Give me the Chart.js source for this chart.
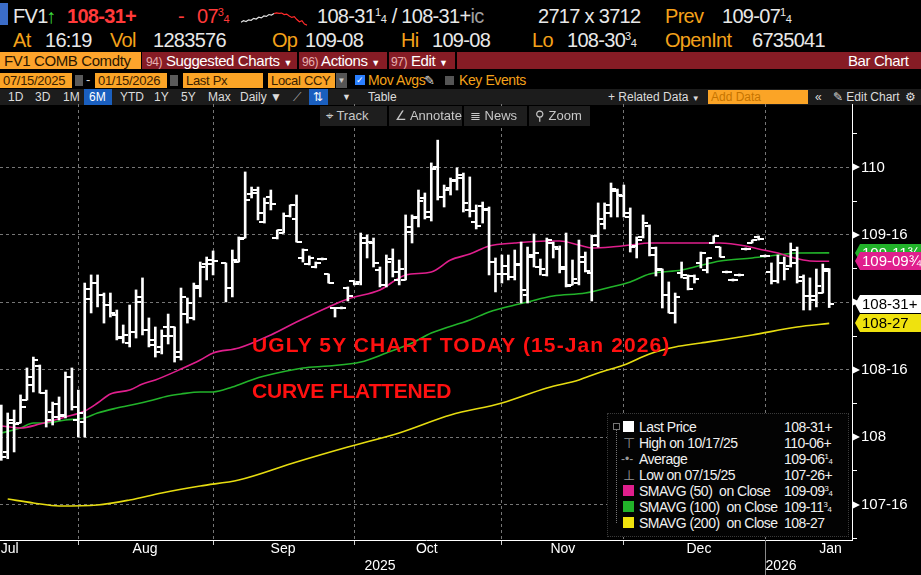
<!DOCTYPE html>
<html lang="en">
<head>
<meta charset="UTF-8">
<title>FV1 COMB Comdty - Bar Chart</title>
<script src="https://cdn.jsdelivr.net/npm/chart.js"></script>
<style>
  html, body { margin: 0; padding: 0; background: #000; }
  #screen { position: relative; width: 921px; height: 575px; overflow: hidden; background: #000;
            font-family: "Liberation Sans", Arial, sans-serif; color: #e8e8e8; }
  .abs { position: absolute; white-space: nowrap; }
  .or { color: #f4a21a; }
  .wh { color: #e8e8e8; }
  .h1 { top: 4px; font-size: 20px; line-height: 24px; letter-spacing: -0.7px; }
  .h2 { top: 28px; font-size: 20px; line-height: 24px; letter-spacing: -0.7px; }
  sup, sub { font-size: 0.55em; line-height: 0; letter-spacing: 0; }
  sup { vertical-align: 0.6em; }
  sub { vertical-align: 0; margin-left: -0.05em; }
  .bar3 { top: 52px; height: 17px; line-height: 17px; font-size: 15px; letter-spacing: -0.4px; }
  .inp { top: 73px; height: 15px; line-height: 15px; font-size: 13px; background: #fba426; color: #3a2000;
         padding-left: 3px; box-sizing: border-box; letter-spacing: -0.3px; }
  .r5 { top: 89px; height: 16px; line-height: 16px; font-size: 12px; color: #dcdcdc; }
  .tool { top: 106px; height: 20px; line-height: 20px; font-size: 13px; color: #c8c8c8; background: #1e1e1e;
          box-sizing: border-box; padding-left: 6px; }
  .note { font-size: 21px; font-weight: bold; color: #ff1010; line-height: 21px; }
  #legend { left: 607px; top: 413px; width: 242px; height: 124px; background: #030303;
            border: 1px dotted #3a3a3a; box-sizing: border-box; }
  .lg { left: 639px; font-size: 14px; line-height: 16px; color: #f0f0f0; letter-spacing: -0.5px; }
  .lv { left: 784px; font-size: 14px; line-height: 16px; color: #f0f0f0; letter-spacing: -0.5px; }
  .sq { left: 623px; width: 11px; height: 11px; }
</style>
</head>
<body>
<div id="screen">

  <!-- row 1 -->
  <div class="abs" style="left:0;top:3px;width:8px;height:22px;background:#3b6cc8"></div>
  <span class="abs h1 wh" style="left:13px">FV1</span>
  <span class="abs h1" style="left:46px;color:#3ddc3d">↑</span>
  <span class="abs h1" style="left:67px;color:#ff3a3a;font-weight:bold">108-31+</span>
  <span class="abs h1" style="left:178px;color:#ff3a3a">-</span>
  <span class="abs h1" style="left:197px;color:#ff3a3a">07<sup>3</sup><sub>4</sub></span>
  <div class="abs" style="left:240px;top:2px;width:68px;height:26px"><canvas id="spark" width="68" height="26"></canvas></div>
  <span class="abs h1 wh" style="left:317px">108-31<sup>1</sup><sub>4</sub> / 108-31+<span style="color:#a0a0a0">ic</span></span>
  <span class="abs h1 wh" style="left:538px">2717 x 3712</span>
  <span class="abs h1 or" style="left:665px">Prev</span>
  <span class="abs h1 wh" style="left:722px">109-07<sup>1</sup><sub>4</sub></span>

  <!-- row 2 -->
  <span class="abs h2 or" style="left:13px">At</span>
  <span class="abs h2 wh" style="left:45px">16:19</span>
  <span class="abs h2 or" style="left:110px">Vol</span>
  <span class="abs h2 wh" style="left:153px">1283576</span>
  <span class="abs h2 or" style="left:272px">Op</span>
  <span class="abs h2 wh" style="left:305px">109-08</span>
  <span class="abs h2 or" style="left:401px">Hi</span>
  <span class="abs h2 wh" style="left:432px">109-08</span>
  <span class="abs h2 or" style="left:532px">Lo</span>
  <span class="abs h2 wh" style="left:567px">108-30<sup>3</sup><sub>4</sub></span>
  <span class="abs h2 or" style="left:665px">OpenInt</span>
  <span class="abs h2 wh" style="left:752px">6735041</span>

  <!-- row 3 -->
  <div class="abs bar3" style="left:0;width:141px;background:#fda42c;color:#2a1600;padding-left:4px;box-sizing:border-box">FV1 COMB Comdty</div>
  <div class="abs bar3" style="left:142px;width:779px;background:#861c25"></div>
  <div class="abs" style="left:297px;top:52px;width:2px;height:17px;background:#000"></div>
  <div class="abs" style="left:387px;top:52px;width:2px;height:17px;background:#000"></div>
  <div class="abs" style="left:455px;top:52px;width:2px;height:17px;background:#000"></div>
  <span class="abs bar3" style="left:146px;color:#fff"><span style="color:#e6b0b0;font-size:12px">94)</span> Suggested Charts <span style="font-size:9px">▼</span></span>
  <span class="abs bar3" style="left:302px;color:#fff"><span style="color:#e6b0b0;font-size:12px">96)</span> Actions <span style="font-size:9px">▼</span></span>
  <span class="abs bar3" style="left:391px;color:#fff"><span style="color:#e6b0b0;font-size:12px">97)</span> Edit <span style="font-size:9px">▼</span></span>
  <span class="abs bar3" style="left:848px;color:#fff">Bar Chart</span>

  <!-- row 4 -->
  <div class="abs inp" style="left:0;width:72px">07/15/2025</div>
  <div class="abs" style="left:75px;top:75px;width:8px;height:11px;background:#5a5a5a"></div>
  <span class="abs" style="left:86px;top:72px;font-size:13px;color:#ddd">-</span>
  <div class="abs inp" style="left:95px;width:72px">01/15/2026</div>
  <div class="abs" style="left:170px;top:75px;width:8px;height:11px;background:#5a5a5a"></div>
  <div class="abs inp" style="left:183px;width:80px">Last Px</div>
  <div class="abs inp" style="left:268px;width:67px">Local CCY</div>
  <div class="abs" style="left:336px;top:73px;width:11px;height:15px;background:#555;color:#ccc;font-size:8px;line-height:15px;text-align:center">▼</div>
  <div class="abs" style="left:355px;top:75px;width:10px;height:10px;background:#2a7fff;color:#fff;font-size:9px;line-height:10px;text-align:center">✓</div>
  <span class="abs or" style="left:368px;top:72px;font-size:14px;line-height:17px;letter-spacing:-0.4px">Mov Avgs</span>
  <span class="abs" style="left:424px;top:72px;font-size:13px;line-height:17px;color:#ddd">✎</span>
  <div class="abs" style="left:445px;top:76px;width:9px;height:9px;background:#555"></div>
  <span class="abs or" style="left:459px;top:72px;font-size:14px;line-height:17px;letter-spacing:-0.4px">Key Events</span>

  <!-- row 5 -->
  <div class="abs" style="left:0;top:89px;width:921px;height:16px;background:#1c1c1c"></div>
  <div class="abs" style="left:84px;top:89px;width:28px;height:16px;background:#1a5fbf"></div>
  <div class="abs" style="left:309px;top:89px;width:19px;height:16px;background:#1a5fbf"></div>
  <div class="abs" style="left:708px;top:90px;width:100px;height:14px;background:#fba426"></div>
  <span class="abs r5" style="left:8px">1D</span>
  <span class="abs r5" style="left:35px">3D</span>
  <span class="abs r5" style="left:63px">1M</span>
  <span class="abs r5" style="left:89px;color:#fff">6M</span>
  <span class="abs r5" style="left:120px">YTD</span>
  <span class="abs r5" style="left:154px">1Y</span>
  <span class="abs r5" style="left:181px">5Y</span>
  <span class="abs r5" style="left:208px">Max</span>
  <span class="abs r5" style="left:240px">Daily ▼</span>
  <span class="abs r5" style="left:293px;color:#aaa">⟋</span>
  <span class="abs r5" style="left:313px;color:#fff">⇅</span>
  <span class="abs r5" style="left:342px;font-size:9px">▼</span>
  <span class="abs r5" style="left:368px">Table</span>
  <span class="abs r5" style="left:608px">+ Related Data <span style="font-size:8px">▼</span></span>
  <span class="abs r5" style="left:711px;color:#c67400">Add Data</span>
  <span class="abs r5" style="left:815px">«</span>
  <span class="abs r5" style="left:833px">✎ Edit Chart</span>
  <span class="abs r5" style="left:905px">⚙</span>

  <!-- chart -->
  <div class="abs" style="left:0;top:104px;width:921px;height:471px"><canvas id="barChart"></canvas></div>

  <!-- chart toolbar -->
  <div class="abs tool" style="left:320px;width:67px">⌖ Track</div>
  <div class="abs tool" style="left:389px;width:73px">∠ Annotate</div>
  <div class="abs tool" style="left:464px;width:63px">≣ News</div>
  <div class="abs tool" style="left:529px;width:61px">⚲ Zoom</div>

  <!-- notes written on the chart -->
  <div class="abs note" style="left:252px;top:334px;letter-spacing:1.1px">UGLY 5Y CHART TODAY (15-Jan 2026)</div>
  <div class="abs note" style="left:252px;top:380px;letter-spacing:-0.2px">CURVE FLATTENED</div>

  <!-- legend -->
  <div id="legend" class="abs"></div>
  <div class="abs" style="left:613px;top:423px;width:7px;height:7px;border:1px solid #777;box-sizing:border-box"></div>
  <div class="abs" style="left:616px;top:430px;width:0;height:93px;border-left:1px dotted #777"></div>
  <div class="abs sq" style="top:421px;background:#fff"></div>
  <span class="abs" style="left:623px;top:435px;font-size:14px;line-height:16px;color:#999">⊤</span>
  <span class="abs" style="left:621px;top:451px;font-size:12px;line-height:16px;color:#999">-•-</span>
  <span class="abs" style="left:623px;top:467px;font-size:14px;line-height:16px;color:#999">⊥</span>
  <div class="abs sq" style="top:485px;background:#e01f8d"></div>
  <div class="abs sq" style="top:501px;background:#22b32a"></div>
  <div class="abs sq" style="top:517px;background:#efe20e"></div>
  <span class="abs lg" style="top:419px">Last Price</span>
  <span class="abs lg" style="top:435px">High on 10/17/25</span>
  <span class="abs lg" style="top:451px">Average</span>
  <span class="abs lg" style="top:467px">Low on 07/15/25</span>
  <span class="abs lg" style="top:483px">SMAVG (50)&nbsp; on Close</span>
  <span class="abs lg" style="top:499px">SMAVG (100)&nbsp; on Close</span>
  <span class="abs lg" style="top:515px">SMAVG (200)&nbsp; on Close</span>
  <span class="abs lv" style="top:419px">108-31+</span>
  <span class="abs lv" style="top:435px">110-06+</span>
  <span class="abs lv" style="top:451px">109-06<sup>1</sup><sub>4</sub></span>
  <span class="abs lv" style="top:467px">107-26+</span>
  <span class="abs lv" style="top:483px">109-09<sup>3</sup><sub>4</sub></span>
  <span class="abs lv" style="top:499px">109-11<sup>3</sup><sub>4</sub></span>
  <span class="abs lv" style="top:515px">108-27</span>
</div>

<script>
  // daily bars 07/15/2025 .. 01/15/2026, one slot per session (slot 34 = Labor Day, empty)
  const opens = [
    108.053, 107.890, 108.105, 108.105, 108.275, 108.387, 108.528, 108.327, 108.186, 108.149,
    108.164, 108.446, 108.127, 108.112, 109.099, 109.143, 109.054, 108.980, 108.906, 108.735,
    108.698, 108.780, 109.040, 108.795, 108.721, 108.669, 108.817, 108.817, 108.632, 108.913,
    108.884, 109.106, 109.284, 109.314, null,    109.292, 109.106, 109.299, 109.477, 109.804,
    109.833, 109.596, 109.781, 109.477, 109.514, 109.640, 109.618, 109.329, 109.284, 109.262,
    109.321, 109.210, 108.958, 108.958, 109.106, 109.158, 109.151, 109.477, 109.440, 109.240,
    109.129, 109.321, 109.166, 109.166, 109.522, 109.633, 109.774, 109.670, 110.004, 109.781,
    109.848, 109.907, 109.922, 109.685, 109.596, 109.715, 109.692, 109.299, 109.210, 109.270,
    109.188, 109.284, 109.054, 109.351, 109.262, 109.203, 109.440, 109.396, 109.247, 109.129,
    109.143, 109.336, 109.218, 109.492, 109.581, 109.722, 109.826, 109.789, 109.633, 109.418,
    109.485, 109.566, 109.403, 109.247, 109.054, 108.921, 109.218, 109.181, 109.195, 109.292,
    109.240, 109.440, 109.410, 109.225, 109.166, 109.203, 109.396, 109.440, 109.485, 109.344,
    109.225, 109.158, 109.292, 109.270, 109.292, 109.188, 109.047, 109.047, 109.069, 109.250
  ];
  const highs = [
    108.238, 108.179, 108.201, 108.313, 108.513, 108.594, 108.535, 108.349, 108.260, 108.298,
    108.483, 108.513, 108.349, 109.143, 109.203, 109.203, 109.069, 109.069, 108.943, 108.832,
    108.980, 109.092, 109.181, 108.884, 108.817, 108.795, 108.913, 108.817, 109.106, 109.032,
    109.143, 109.299, 109.336, 109.381, null,    109.292, 109.388, 109.485, 109.967, 109.855,
    109.855, 109.774, 109.833, 109.536, 109.663, 109.722, 109.796, 109.396, 109.344, 109.299,
    109.329, 109.210, 108.958, 108.966, 109.114, 109.158, 109.514, 109.499, 109.477, 109.262,
    109.351, 109.396, 109.314, 109.648, 109.648, 109.833, 109.811, 110.034, 110.203, 109.870,
    109.922, 109.997, 109.959, 109.930, 109.722, 109.744, 109.707, 109.329, 109.351, 109.351,
    109.388, 109.447, 109.410, 109.507, 109.321, 109.477, 109.447, 109.418, 109.514, 109.314,
    109.462, 109.373, 109.499, 109.737, 109.737, 109.885, 109.840, 109.870, 109.700, 109.485,
    109.648, 109.574, 109.410, 109.247, 109.151, 109.069, 109.299, 109.203, 109.203, 109.373,
    109.329, 109.492, 109.410, 109.232, 109.173, 109.210, 109.403, 109.462, 109.492, 109.351,
    109.292, 109.351, 109.336, 109.440, 109.410, 109.203, 109.181, 109.247, 109.284, 109.250
  ];
  const lows = [
    107.828, 107.840, 107.890, 108.105, 108.275, 108.335, 108.327, 108.075, 108.090, 108.127,
    108.142, 108.201, 108.001, 108.001, 108.921, 108.966, 108.846, 108.891, 108.721, 108.698,
    108.669, 108.735, 108.758, 108.669, 108.594, 108.617, 108.691, 108.557, 108.572, 108.846,
    108.869, 109.040, 109.166, 109.203, null,    109.003, 109.040, 109.299, 109.477, 109.774,
    109.611, 109.588, 109.685, 109.470, 109.514, 109.633, 109.447, 109.299, 109.277, 109.255,
    109.314, 109.143, 108.891, 108.951, 109.010, 109.129, 109.129, 109.329, 109.262, 109.114,
    109.114, 109.188, 109.129, 109.166, 109.440, 109.559, 109.618, 109.603, 109.759, 109.707,
    109.796, 109.833, 109.670, 109.633, 109.544, 109.588, 109.203, 109.077, 109.143, 109.166,
    109.166, 108.995, 108.995, 109.262, 109.203, 109.195, 109.329, 109.218, 109.114, 109.129,
    109.129, 109.225, 109.010, 109.410, 109.544, 109.633, 109.633, 109.633, 109.373, 109.329,
    109.477, 109.344, 109.195, 108.958, 108.921, 108.846, 109.181, 109.092, 109.143, 109.255,
    109.218, 109.440, 109.336, 109.218, 109.158, 109.195, 109.388, 109.440, 109.462, 109.336,
    109.136, 109.143, 109.166, 109.262, 109.143, 108.943, 108.943, 108.966, 109.069, 108.961
  ];
  const closes = [
    107.853, 108.127, 108.097, 108.223, 108.446, 108.572, 108.327, 108.127, 108.246, 108.157,
    108.446, 108.223, 108.179, 109.025, 109.143, 109.054, 108.980, 108.921, 108.743, 108.758,
    108.780, 109.003, 108.795, 108.684, 108.632, 108.750, 108.750, 108.594, 109.040, 108.995,
    109.121, 109.262, 109.284, 109.307, null,    109.106, 109.314, 109.470, 109.759, 109.811,
    109.663, 109.737, 109.729, 109.536, 109.640, 109.722, 109.447, 109.388, 109.329, 109.292,
    109.321, 109.143, 108.958, 108.958, 109.047, 109.136, 109.440, 109.447, 109.292, 109.129,
    109.299, 109.225, 109.247, 109.559, 109.626, 109.752, 109.633, 109.989, 109.781, 109.833,
    109.900, 109.944, 109.737, 109.677, 109.566, 109.685, 109.299, 109.210, 109.210, 109.188,
    109.277, 109.092, 109.336, 109.366, 109.247, 109.462, 109.410, 109.262, 109.121, 109.173,
    109.299, 109.232, 109.425, 109.618, 109.663, 109.840, 109.796, 109.663, 109.410, 109.462,
    109.588, 109.351, 109.240, 109.054, 108.921, 109.040, 109.203, 109.099, 109.173, 109.366,
    109.329, 109.492, 109.336, 109.225, 109.166, 109.203, 109.396, 109.462, 109.470, 109.344,
    109.158, 109.292, 109.247, 109.388, 109.158, 109.047, 109.017, 109.121, 109.232, 108.984
  ];

  // moving averages (slot, value)
  const sma50Slot = [0, 3, 6, 10, 13, 15, 17, 20, 22, 24, 28, 31, 33, 37, 42, 46, 51, 54, 59, 63,
                     67, 70, 73, 76, 80, 85, 87, 90, 92, 95, 98, 101, 106, 112, 116, 118, 121, 123, 126, 129];
  const sma50 = [108.083, 108.068, 108.097, 108.149, 108.194, 108.253, 108.320, 108.349, 108.394, 108.424,
                 108.505, 108.572, 108.624, 108.661, 108.758, 108.854, 108.966, 109.025, 109.092, 109.203,
                 109.225, 109.314, 109.358, 109.418, 109.440, 109.455, 109.455, 109.425, 109.403, 109.410,
                 109.425, 109.440, 109.440, 109.440, 109.418, 109.396, 109.366, 109.336, 109.307, 109.305];
  const sma100Slot = [0, 3, 5, 7, 10, 13, 15, 18, 21, 23, 26, 28, 31, 33, 36, 39, 41, 47, 51, 56,
                      60, 64, 67, 73, 76, 80, 82, 86, 91, 95, 98, 101, 106, 108, 112, 117, 121, 124, 129];
  const sma100 = [108.031, 108.068, 108.105, 108.105, 108.127, 108.142, 108.179, 108.216, 108.246, 108.268,
                  108.305, 108.320, 108.335, 108.335, 108.372, 108.424, 108.453, 108.513, 108.528, 108.557,
                  108.624, 108.698, 108.772, 108.869, 108.928, 108.980, 109.003, 109.047, 109.069, 109.114,
                  109.151, 109.210, 109.240, 109.262, 109.307, 109.329, 109.351, 109.366, 109.367];
  const sma200Slot = [1, 5, 9, 15, 20, 25, 31, 37, 46, 54, 62, 70, 78, 85, 90, 93, 97, 101, 105, 109,
                      117, 124, 129];
  const sma200 = [107.541, 107.512, 107.489, 107.497, 107.534, 107.586, 107.638, 107.682, 107.816, 107.927,
                  108.031, 108.164, 108.253, 108.364, 108.424, 108.476, 108.535, 108.617, 108.669, 108.698,
                  108.758, 108.817, 108.844];

  // axis labels
  const monthNames = ['Jul', 'Aug', 'Sep', 'Oct', 'Nov', 'Dec', 'Jan'];
  const yearNames = ['2025', '2026'];

  // small intraday sparkline in the header
  const spark = [2.0, 2.6, 2.3, 3.0, 2.8, 3.6, 3.3, 4.1, 3.8, 4.6, 4.4, 5.2, 5.0, 5.6,
                 5.9, 5.7, 5.8, 5.2, 5.4, 4.6, 4.0, 4.3, 3.1, 2.2, 2.6, 1.2, 0.8];

  // layout of the time axis (in slots)
  const monthEnds = [12, 33, 55, 78, 97, 119];
  const monthMid = [1.3, 22.4, 43.9, 66.3, 87.5, 108.7, 129.2];
  const yearMid = [59, 121.5];

  Chart.defaults.font.family = '"Liberation Sans", Arial, sans-serif';
  Chart.defaults.color = '#fff';

  const near = (a, b) => Math.abs(a - b) < 1e-6;
  const isHalf = v => near(v * 2, Math.round(v * 2));

  // treasury style price: 32nds with +, 1/4, 3/4
  function fmt32(v, full) {
    const whole = Math.floor(v + 1e-9);
    const q = Math.round((v - whole) * 128) / 4;
    const n = Math.floor(q);
    if (!full && n === 0 && q === 0) return String(whole);
    const r = q - n;
    const tail = near(r, 0.5) ? '+' : near(r, 0.25) ? '¼' : near(r, 0.75) ? '¾' : '';
    return whole + '-' + String(n).padStart(2, '0') + tail;
  }

  // open / close ticks as point images
  function tickImage(side) {
    const c = document.createElement('canvas');
    c.width = 10; c.height = 2;
    const g = c.getContext('2d');
    g.fillStyle = '#fff';
    if (side === 'left') g.fillRect(0, 0, 5, 2); else g.fillRect(5, 0, 5, 2);
    return c;
  }

  const hiLo = [], openPts = [], closePts = [];
  opens.forEach((o, i) => {
    if (o === null) return;
    hiLo.push({ x: i, y: [lows[i], highs[i]] });
    openPts.push({ x: i, y: o });
    closePts.push({ x: i, y: closes[i] });
  });
  const pts = (slots, vals) => slots.map((s, k) => ({ x: s, y: vals[k] }));

  const lastTags = [
    { v: sma100[sma100.length - 1], bg: '#22b32a', fg: '#fff' },
    { v: sma50[sma50.length - 1], bg: '#e01f8d', fg: '#fff' },
    { v: closes[closes.length - 1], bg: '#ffffff', fg: '#000' },
    { v: sma200[sma200.length - 1], bg: '#efe20e', fg: '#000' }
  ];

  const axisExtras = {
    id: 'axisExtras',
    afterDraw(chart) {
      const { ctx, chartArea: a, scales: { x, y } } = chart;
      ctx.save();
      // arrow markers at labelled price levels
      ctx.fillStyle = '#fff';
      y.ticks.forEach(t => {
        if (!isHalf(t.value)) return;
        const py = Math.round(y.getPixelForValue(t.value));
        ctx.beginPath();
        ctx.moveTo(a.right + 1, py - 3.5);
        ctx.lineTo(a.right + 8, py);
        ctx.lineTo(a.right + 1, py + 3.5);
        ctx.fill();
      });
      // year divider
      const sx = Math.round(x.getPixelForValue(monthEnds[monthEnds.length - 1])) + 0.5;
      ctx.strokeStyle = '#8a8a8a';
      ctx.lineWidth = 1;
      ctx.beginPath();
      ctx.moveTo(sx, a.bottom);
      ctx.lineTo(sx, chart.height);
      ctx.stroke();
      // last value tags
      ctx.font = '15px "Liberation Sans", Arial, sans-serif';
      ctx.textBaseline = 'middle';
      lastTags.forEach(tag => {
        const py = Math.round(y.getPixelForValue(tag.v));
        ctx.fillStyle = tag.bg;
        ctx.beginPath();
        ctx.moveTo(a.right + 3, py);
        ctx.lineTo(a.right + 8, py - 9);
        ctx.lineTo(chart.width, py - 9);
        ctx.lineTo(chart.width, py + 9);
        ctx.lineTo(a.right + 8, py + 9);
        ctx.closePath();
        ctx.fill();
        ctx.fillStyle = tag.fg;
        ctx.fillText(fmt32(tag.v, true), a.right + 10, py + 1);
      });
      ctx.restore();
    }
  };

  const xMin = -0.2, xMax = 132.55;

  new Chart(document.getElementById('barChart'), {
    type: 'bar',
    data: {
      datasets: [
        { type: 'bar', data: hiLo, backgroundColor: '#fff', borderWidth: 0, barThickness: 2, order: 0 },
        { type: 'line', data: openPts, showLine: false, pointStyle: tickImage('left'), order: 0 },
        { type: 'line', data: closePts, showLine: false, pointStyle: tickImage('right'), order: 0 },
        { type: 'line', data: pts(sma50Slot, sma50), borderColor: '#e01f8d', borderWidth: 1.6,
          pointRadius: 0, cubicInterpolationMode: 'monotone', order: 3 },
        { type: 'line', data: pts(sma100Slot, sma100), borderColor: '#22b32a', borderWidth: 1.6,
          pointRadius: 0, cubicInterpolationMode: 'monotone', order: 4 },
        { type: 'line', data: pts(sma200Slot, sma200), borderColor: '#e6dc10', borderWidth: 1.6,
          pointRadius: 0, cubicInterpolationMode: 'monotone', order: 5 }
      ]
    },
    options: {
      responsive: true,
      maintainAspectRatio: false,
      animation: false,
      events: [],
      layout: { padding: 0, autoPadding: false },
      plugins: { legend: { display: false }, tooltip: { enabled: false } },
      scales: {
        x: {
          type: 'linear', position: 'bottom', min: xMin, max: xMax, offset: false, weight: 0,
          afterBuildTicks: s => { s.ticks = monthEnds.concat(monthMid).map(v => ({ value: v })); },
          ticks: {
            autoSkip: false, maxRotation: 0, minRotation: 0, padding: -4, color: '#fff',
            font: { size: 14 },
            callback: v => { const k = monthMid.indexOf(v); return k < 0 ? '' : monthNames[k]; }
          },
          grid: {
            offset: false, tickLength: 5,
            color: c => (c.tick && monthEnds.includes(c.tick.value)) ? '#767676' : 'rgba(0,0,0,0)',
            tickColor: c => (c.tick && monthEnds.includes(c.tick.value)) ? '#cfcfcf' : 'rgba(0,0,0,0)'
          },
          border: { color: '#fff', width: 1, dash: [3, 3] },
          afterFit: s => { s.height = 18; s.paddingLeft = 0; s.paddingRight = 0; }
        },
        xYear: {
          axis: 'x', type: 'linear', position: 'bottom', min: xMin, max: xMax, offset: false, weight: 1,
          afterBuildTicks: s => { s.ticks = yearMid.map(v => ({ value: v })); },
          ticks: {
            autoSkip: false, maxRotation: 0, minRotation: 0, padding: 0, color: '#fff',
            font: { size: 14 },
            callback: v => yearNames[yearMid.indexOf(v)] || ''
          },
          grid: { display: false, drawTicks: false },
          border: { display: false },
          afterFit: s => { s.height = 17; s.paddingLeft = 0; s.paddingRight = 0; }
        },
        y: {
          type: 'linear', position: 'right', min: 107.237, max: 110.471,
          afterBuildTicks: s => {
            const t = [];
            for (let k = 0; k <= 12; k++) t.push({ value: 107.25 + k * 0.25 });
            s.ticks = t;
          },
          ticks: {
            autoSkip: false, padding: 4, color: '#fff', font: { size: 15 },
            callback: v => isHalf(v) ? fmt32(v) : ''
          },
          grid: {
            tickLength: 5,
            color: c => (c.tick && isHalf(c.tick.value)) ? '#767676' : 'rgba(0,0,0,0)',
            tickColor: c => (c.tick && !isHalf(c.tick.value)) ? '#fff' : 'rgba(0,0,0,0)'
          },
          border: { color: '#fff', width: 1, dash: [3, 3] },
          afterFit: s => { s.width = 69; s.paddingTop = 0; s.paddingBottom = 0; }
        }
      }
    },
    plugins: [axisExtras]
  });

  // header sparkline
  new Chart(document.getElementById('spark'), {
    type: 'line',
    data: {
      labels: spark.map((_, i) => i),
      datasets: [{
        data: spark, borderWidth: 1.2, pointRadius: 0, borderColor: '#e0e0e0',
        segment: { borderColor: c => c.p0DataIndex >= 13 ? '#ff2a2a' : '#e0e0e0' }
      }]
    },
    options: {
      responsive: false, animation: false, events: [],
      layout: { padding: 1 },
      plugins: { legend: { display: false }, tooltip: { enabled: false } },
      scales: { x: { display: false }, y: { display: false } }
    }
  });
</script>
</body>
</html>
